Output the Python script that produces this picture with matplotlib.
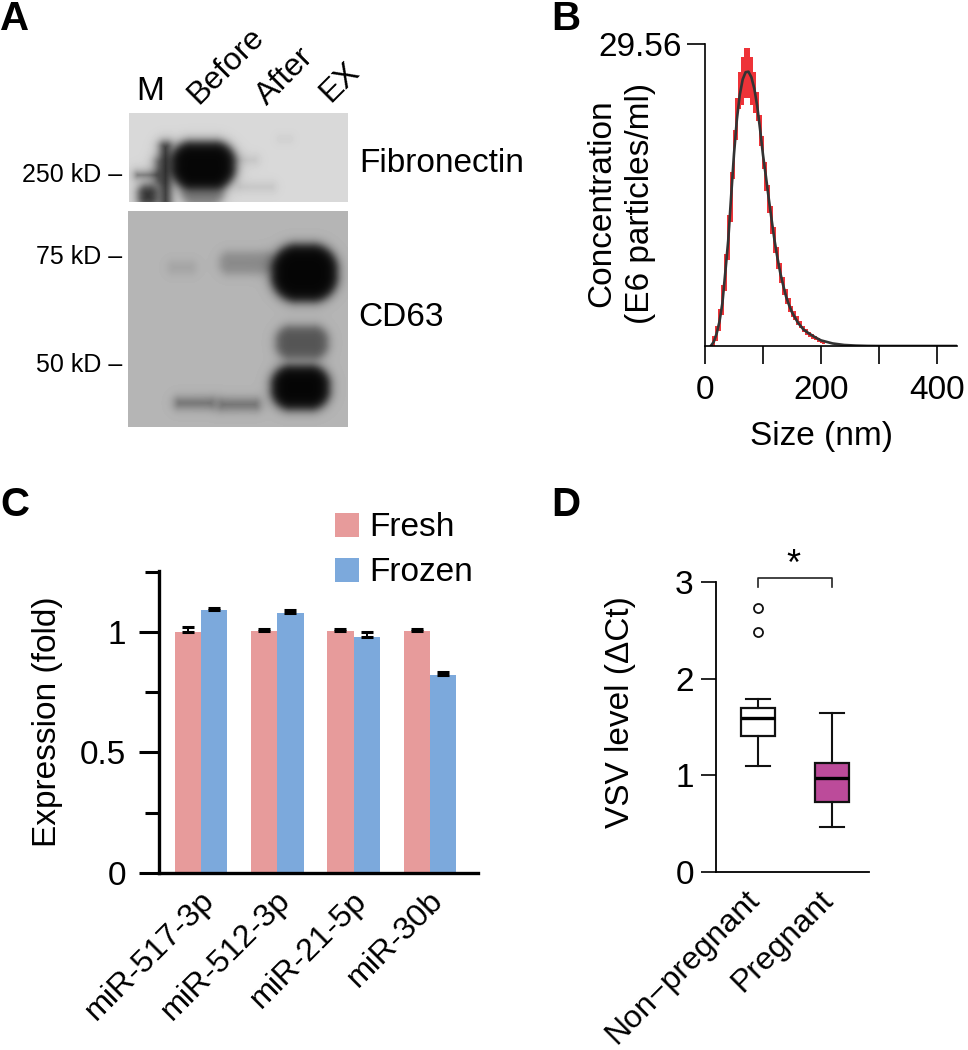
import numpy as np
import matplotlib
matplotlib.use('Agg')
import matplotlib.pyplot as plt
from matplotlib.transforms import ScaledTranslation

plt.rcParams['font.family'] = ['Liberation Sans', 'DejaVu Sans']
plt.rcParams['font.size'] = 24

FIG_W, FIG_H = 968, 1050

# panel A: blot bands as (x0, x1, y0, y1, darkness), in blot pixels
fibronectin_bands = [
    (170, 236, 141, 189, 1.0),
    (181, 224, 175, 206, 0.45),
    (160, 171, 142, 206, 0.8),
    (154, 164, 158, 185, 0.4),
    (138, 158, 185, 206, 0.8),
    (136, 158, 173, 177, 0.6),
    (237, 275, 183, 191, 0.1),
    (234, 258, 156, 164, 0.1),
    (278, 292, 136, 142, 0.05),
]
cd63_bands = [
    (271, 338, 244, 302, 1.0),
    (276, 328, 326, 359, 0.55),
    (271, 330, 365, 410, 1.0),
    (220, 275, 252, 274, 0.25),
    (168, 196, 261, 274, 0.1),
    (175, 215, 398, 408, 0.4),
    (218, 260, 399, 410, 0.4),
]
lane_labels = ['Before', 'After', 'EX']

# panel B: size distribution
size_nm = [10, 15, 20, 25, 30, 35, 40, 45, 50, 55, 60, 65, 70, 75, 80, 85, 90, 95, 100,
           105, 110, 115, 120, 125, 130, 135, 140, 145, 150, 155, 160, 170, 180, 190,
           200, 220, 240, 260, 280, 300, 434]
conc_mean = [0, 0.4, 1.2, 2.4, 4.2, 7.2, 10.3, 14.6, 18.8, 22.2, 24.6, 26.1, 26.8, 26.85,
             26.3, 25.2, 23.5, 21.2, 18.7, 16.6, 14.4, 12.3, 10.3, 8.6, 7.1, 5.9, 4.8, 4.0,
             3.3, 2.8, 2.3, 1.6, 1.2, 0.85, 0.55, 0.25, 0.1, 0.04, 0.01, 0, 0]
bin_edges = [7.5, 12.5, 17.5, 22.5, 27.5, 32.5, 37.5, 42.5, 47.5, 52.5, 57.5, 62.5, 67.5,
             72.5, 77.5, 82.5, 87.5, 92.5, 97.5, 102.5, 107.5, 112.5, 117.5, 122.5, 127.5,
             132.5, 137.5, 142.5, 147.5, 152.5, 157.5, 162.5, 167.5, 172.5, 177.5, 182.5,
             187.5, 192.5, 197.5, 202.5, 207.5]
conc_upper = [0, 1, 2, 3.6, 6, 9, 12.8, 17, 21.1, 24.3, 26.8, 28.25, 29.17, 29.17,
              28.25, 26.8, 24.9, 22.6, 20.6, 18, 15.8, 13.7, 11.6, 9.7, 8.1, 6.8, 5.6, 4.7,
              3.9, 3.4, 2.9, 2.4, 2, 1.7, 1.4, 1.2, 1.0, 0.8, 0.6, 0.45]
conc_lower = [0, 0, 0.5, 1.5, 3, 5.4, 8.4, 12.1, 16.3, 20.2, 23.2, 23.6, 24.3, 24.3, 23.6,
              22.8, 22, 19.6, 17.3, 15.2, 13, 11, 9.1, 7.5, 6.2, 5, 4.1, 3.3, 2.8, 2.5, 2.1,
              1.8, 1.4, 1.1, 0.9, 0.7, 0.55, 0.4, 0.3, 0.2]

# panel C
mirnas = ['miR-517-3p', 'miR-512-3p', 'miR-21-5p', 'miR-30b']
fresh = [1.0, 1.005, 1.005, 1.005]
frozen = [1.09, 1.08, 0.98, 0.82]
fresh_err = [0.02, 0.007, 0.007, 0.007]
frozen_err = [0.01, 0.01, 0.02, 0.015]

# panel D
groups = ['Non\u2212pregnant', 'Pregnant']
box_stats = [
    dict(med=1.597, q1=1.407, q3=1.693, whislo=1.10, whishi=1.793, fliers=[2.486, 2.728]),
    dict(med=0.972, q1=0.728, q3=1.124, whislo=0.469, whishi=1.648, fliers=[]),
]


def px_axes(left, top, right, bottom):
    return fig.add_axes([left / FIG_W, 1 - bottom / FIG_H,
                         (right - left) / FIG_W, (bottom - top) / FIG_H])


def blot_image(x0, x1, y0, y1, bg, bands, blur=3.0):
    xx, yy = np.meshgrid(np.arange(x0, x1) + 0.5, np.arange(y0, y1) + 0.5)
    img = np.full(xx.shape, bg, dtype=float)
    for bx0, bx1, by0, by1, dark in bands:
        hw, hh = (bx1 - bx0) / 2, (by1 - by0) / 2
        r = 0.45 * min(hw, hh) * 2
        qx = np.abs(xx - (bx0 + bx1) / 2) - (hw - r)
        qy = np.abs(yy - (by0 + by1) / 2) - (hh - r)
        sdf = np.hypot(np.maximum(qx, 0), np.maximum(qy, 0)) + np.minimum(np.maximum(qx, qy), 0) - r
        img *= 1 - 0.97 * dark / (1 + np.exp(np.clip(sdf / blur, -30, 30)))
    return img


def shift_labels(ax, dx_px, dy_px):
    offset = ScaledTranslation(dx_px * 0.72 / 72, dy_px * 0.72 / 72, fig.dpi_scale_trans)
    for label in ax.get_xticklabels():
        label.set_transform(label.get_transform() + offset)


fig = plt.figure(figsize=(FIG_W / 100, FIG_H / 100), dpi=100)

# canvas in pixels for the blots and free text
canvas = fig.add_axes([0, 0, 1, 1])
canvas.imshow(blot_image(129, 348, 113, 202, 0.85, fibronectin_bands), cmap='gray',
              vmin=0, vmax=1, extent=(129, 348, 202, 113), interpolation='bilinear')
canvas.imshow(blot_image(128, 348, 211, 427, 0.71, cd63_bands), cmap='gray',
              vmin=0, vmax=1, extent=(128, 348, 427, 211), interpolation='bilinear')
canvas.set_xlim(0, FIG_W)
canvas.set_ylim(FIG_H, 0)
canvas.axis('off')

for letter, x, y in [('A', 0, 19), ('B', 551, 19), ('C', 0, 505), ('D', 551, 505)]:
    canvas.text(x, y, letter, fontsize=29, fontweight='bold', va='center')

canvas.text(150, 92, 'M', fontsize=24, ha='center', va='center')
for name, x, y in zip(lane_labels, [226, 285, 340], [66, 76, 82]):
    canvas.text(x, y, name, fontsize=23, rotation=45, ha='center', va='center')
for name, y in [('250 kD \u2013', 175), ('75 kD \u2013', 257), ('50 kD \u2013', 365)]:
    canvas.text(122, y, name, fontsize=18, ha='right', va='center')
canvas.text(359, 163, 'Fibronectin', va='center')
canvas.text(358, 317, 'CD63', va='center')

# B
axb = px_axes(705, 44, 957, 346)
axb.stairs(conc_upper, bin_edges, baseline=conc_lower, fill=True, color='#EE3338', lw=0)
axb.plot(size_nm, conc_mean, color='#333333', lw=1.9)
axb.set_xlim(0, 434.5)
axb.set_ylim(0, 29.56)
axb.set_xticks([0, 100, 200, 300, 400], ['0', '', '200', '', '400'])
axb.set_yticks([29.56], ['29.56'])
axb.tick_params(axis='x', length=13, width=1.2, pad=8)
axb.tick_params(axis='y', length=13, width=1.2, pad=4)
axb.spines[['top', 'right']].set_visible(False)
axb.spines[['left', 'bottom']].set_linewidth(1.2)
canvas.text(821, 437, 'Size (nm)', ha='center', va='center')
canvas.text(621, 203, 'Concentration\n(E6 particles/ml)', rotation=90, ha='center',
            va='center', linespacing=1.35)

# C
axc = px_axes(159, 571, 478, 873)
xpos = np.arange(len(mirnas))
bar_w = 0.345
bars_fresh = axc.bar(xpos - bar_w / 2, fresh, bar_w, color='#E79B9B', label='Fresh')
bars_frozen = axc.bar(xpos + bar_w / 2, frozen, bar_w, color='#7CA9DC', label='Frozen')
err_style = dict(fmt='none', ecolor='black', elinewidth=1.4, capsize=4.5, capthick=2.2)
axc.errorbar(xpos - bar_w / 2, fresh, yerr=[np.zeros(4), fresh_err], **err_style)
axc.errorbar(xpos + bar_w / 2, frozen, yerr=[np.zeros(4), frozen_err], **err_style)
axc.set_xlim(-0.55, 3.63)
axc.set_ylim(0, 1.253)
axc.set_yticks([0, 0.5, 1], ['0', '0.5', '1'])
axc.set_yticks([0.25, 0.75, 1.25], minor=True)
axc.tick_params(axis='y', which='major', length=14.5, width=2.2, pad=9)
axc.tick_params(axis='y', which='minor', length=10, width=2.2)
axc.set_xticks(xpos, mirnas, rotation=45, ha='right', va='top', rotation_mode='anchor',
              fontsize=23.3)
axc.tick_params(axis='x', length=0, pad=9)
shift_labels(axc, -2, 0)
axc.spines[['top', 'right']].set_visible(False)
axc.spines[['left', 'bottom']].set_linewidth(2.4)
canvas.text(48, 722, 'Expression (fold)', rotation=90, ha='center', va='center')
axc.legend(handles=[bars_fresh, bars_frozen], frameon=False, fontsize=24,
           loc='upper left', bbox_to_anchor=(332 / FIG_W, 1 - 509 / FIG_H),
           bbox_transform=fig.transFigure, handlelength=0.72, handleheight=0.75,
           handletextpad=0.3, labelspacing=0.42, borderaxespad=0, borderpad=0.1)

# D
axd = px_axes(716, 582, 869, 872)
axd.bxp(box_stats, positions=[1, 2], widths=0.45, capwidths=0.325, patch_artist=True,
        boxprops=dict(linewidth=1.6, edgecolor='#111111'),
        whiskerprops=dict(linewidth=1.5, color='#111111'),
        capprops=dict(linewidth=1.5, color='#111111'),
        medianprops=dict(linewidth=2.4, color='black'),
        flierprops=dict(marker='o', markersize=6.5, markerfacecolor='white',
                        markeredgecolor='#111111', markeredgewidth=1.3))
axd.patches[0].set_facecolor('white')
axd.patches[1].set_facecolor('#BC4B9A')
axd.set_xlim(0.432, 2.5)
axd.set_ylim(0, 3)
axd.set_yticks([0, 1, 2, 3])
axd.tick_params(axis='y', length=11, width=1.2, pad=5)
axd.set_xticks([1, 2], groups, rotation=45, ha='right', va='top', rotation_mode='anchor',
              fontsize=23)
axd.tick_params(axis='x', length=0, pad=9)
shift_labels(axd, -14, 0)
axd.spines[['top', 'right']].set_visible(False)
axd.spines[['left', 'bottom']].set_linewidth(1.3)
axd.plot([1, 1, 2, 2], [2.95, 3.04, 3.04, 2.95], color='#222222', lw=1.2, clip_on=False)
canvas.text(793, 565, '*', fontsize=26, ha='center', va='center')
canvas.text(620, 712, 'VSV level (\u0394Ct)', rotation=90, ha='center', va='center')

fig.savefig('out.png', dpi=100)
